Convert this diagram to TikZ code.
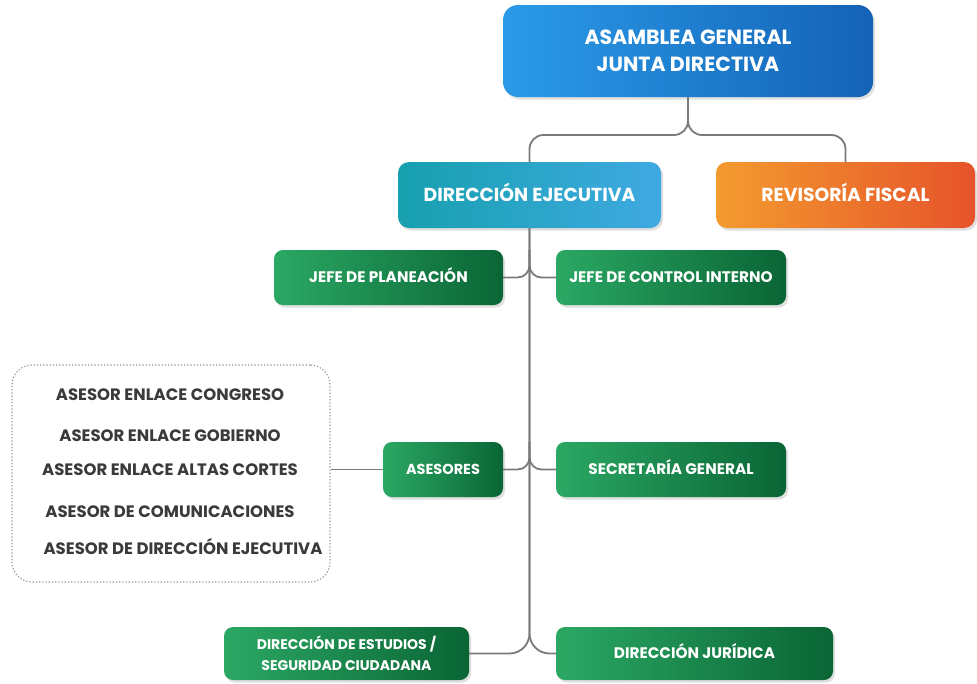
\documentclass[tikz,border=0pt]{standalone}
\usepackage{fontspec}
\setmainfont{Poppins}
\usetikzlibrary{shadows}
\definecolor{blueL}{HTML}{2A9BE8}
\definecolor{blueR}{HTML}{1462B6}
\definecolor{tealL}{HTML}{17A0AE}
\definecolor{tealR}{HTML}{3FA9E2}
\definecolor{orL}{HTML}{F39B2F}
\definecolor{orR}{HTML}{E6532A}
\definecolor{grL}{HTML}{2BA864}
\definecolor{grR}{HTML}{0A6535}
\definecolor{conncol}{HTML}{7A7A7A}
\definecolor{txtgray}{HTML}{3A3A3A}
\begin{document}
\begin{tikzpicture}[x=1pt,y=-1pt,
  boxbase/.style={rectangle, rounded corners=9pt, text=white, font=\bfseries, align=center, inner sep=0pt,
     drop shadow={opacity=0.25, shadow xshift=2pt, shadow yshift=-2.5pt}},
  topbox/.style={boxbase, rounded corners=15pt, left color=blueL, right color=blueR, font=\bfseries\fontsize{20.5}{27}\selectfont},
  midbox/.style={boxbase, rounded corners=11pt, font=\bfseries\fontsize{18.8}{22}\selectfont, text height=13.2pt, text depth=0pt},
  grbase/.style={boxbase, left color=grL, right color=grR, minimum height=55pt},
  grbox/.style={grbase, font=\bfseries\fontsize{15.3}{21}\selectfont, text height=10.7pt, text depth=0pt},
  conn/.style={draw=conncol, line width=1.8pt},
  asline/.style={text=txtgray, font=\bfseries\fontsize{16.5}{18}\selectfont, text height=11.5pt, text depth=0pt}]
\useasboundingbox (0,0) rectangle (977,683);
\fill[white] (0,0) rectangle (977,683);

\node[topbox, minimum width=370pt, minimum height=92pt] (top) at (688,51) {ASAMBLEA GENERAL\\JUNTA DIRECTIVA};
\node[midbox, left color=tealL, right color=tealR, minimum width=263pt, minimum height=66pt] (dir) at (529.5,195) {DIRECCIÓN EJECUTIVA};
\node[midbox, left color=orL, right color=orR, minimum width=259pt, minimum height=66pt] (rev) at (845.5,195) {REVISORÍA FISCAL};

\node[grbox, minimum width=229pt] (plan) at (388.5,277.5) {JEFE DE PLANEACIÓN};
\node[grbox, minimum width=230pt] (ctrl) at (671,277.5) {JEFE DE CONTROL INTERNO};
\node[grbox, minimum width=120pt, font=\bfseries\fontsize{14.5}{18}\selectfont, text height=10.2pt] (ases) at (443,469.5) {ASESORES};
\node[grbox, minimum width=230pt] (sec) at (671,469.5) {SECRETARÍA GENERAL};
\node[grbase, minimum width=245pt, minimum height=53pt, font=\bfseries\fontsize{14}{21}\selectfont] (dest) at (346.5,653.5) {DIRECCIÓN DE ESTUDIOS /\\SEGURIDAD CIUDADANA};
\node[grbox, minimum width=277pt, minimum height=53pt] (jur) at (694.5,653.5) {DIRECCIÓN JURÍDICA};

\node[draw=conncol!80, dotted, line width=1.2pt, rounded corners=20pt, minimum width=318pt, minimum height=217pt, inner sep=0pt] (abox) at (171,473.5) {};
\node[asline] (a1) at (170,395) {ASESOR ENLACE CONGRESO};
\node[asline] (a2) at (170,436) {ASESOR ENLACE GOBIERNO};
\node[asline] (a3) at (170,470) {ASESOR ENLACE ALTAS CORTES};
\node[asline] (a4) at (170,512) {ASESOR DE COMUNICACIONES};
\node[asline] (a5) at (183,549) {ASESOR DE DIRECCIÓN EJECUTIVA};

\coordinate (j1) at (688,135);
\draw[conn, rounded corners=14pt] (top.south) |- (dir.north |- j1) -- (dir.north);
\draw[conn, rounded corners=14pt] (top.south) |- (rev.north |- j1) -- (rev.north);

\draw[conn, rounded corners=20pt] (dir.south) |- (dest.east);
\draw[conn, rounded corners=20pt] (dir.south) |- (jur.west);
\draw[conn, rounded corners=12pt] (plan.east) -| (dir.south |- plan.north);
\draw[conn, rounded corners=12pt] (ctrl.west) -| (dir.south |- ctrl.north);
\draw[conn, rounded corners=12pt] (ases.east) -| (dir.south |- ases.north);
\draw[conn, rounded corners=12pt] (sec.west) -| (dir.south |- sec.north);
\draw[conn] (ases.west) -- (ases.west -| abox.east);
\end{tikzpicture}
\end{document}
